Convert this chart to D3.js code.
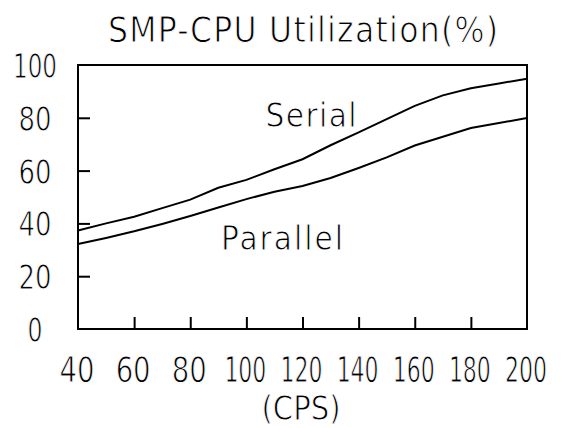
<!DOCTYPE html>
<html>
<head>
<meta charset="utf-8">
<script src="https://cdn.jsdelivr.net/npm/d3@7"></script>
<style>
  body { margin: 0; background: #fff; }
  text { font-family: "Liberation Sans Narrow", "DejaVu Sans Condensed", sans-serif; fill: #000;
         stroke: #fff; stroke-width: 0.9px; }
</style>
</head>
<body>
<svg id="chart"></svg>
<script>
// CPS values along the x axis
const cps = [40, 50, 60, 70, 80, 90, 100, 110, 120, 130, 140, 150, 160, 170, 180, 190, 200];
// CPU utilization (%)
const serial   = [37.3, 40, 42.5, 45.8, 49, 53.5, 56.5, 60.5, 64.3, 69.6, 74.5, 79.5, 84.5, 88.5, 91.2, 93, 94.8];
const parallel = [32.2, 34.5, 37, 39.8, 42.8, 46, 49.2, 52, 54.2, 57.2, 61, 65, 69.5, 72.8, 76.1, 78, 79.9];
const xTicks = [40, 60, 80, 100, 120, 140, 160, 180, 200];
const yTicks = [0, 20, 40, 60, 80, 100];

const width = 566, height = 428;
const margin = {top: 65, right: 39, bottom: 99, left: 78};

const svg = d3.select("#chart")
  .attr("width", width)
  .attr("height", height);

const x = d3.scaleLinear().domain([40, 200]).range([margin.left, width - margin.right]);
const y = d3.scaleLinear().domain([0, 100]).range([height - margin.bottom, margin.top]);

// frame
svg.append("rect")
  .attr("x", x(40)).attr("y", y(100))
  .attr("width", x(200) - x(40)).attr("height", y(0) - y(100))
  .attr("fill", "none").attr("stroke", "#000").attr("stroke-width", 2);

// inward ticks, labels drawn separately
const xAxis = d3.axisTop(x).tickValues(xTicks.slice(1, -1)).tickSize(12).tickFormat("");
svg.append("g")
  .attr("transform", `translate(0,${y(0)})`)
  .call(xAxis)
  .call(g => g.select(".domain").remove())
  .call(g => g.selectAll("line").attr("stroke-width", 2));

const yAxis = d3.axisRight(y).tickValues(yTicks.slice(1, -1)).tickSize(12).tickFormat("");
svg.append("g")
  .attr("transform", `translate(${x(40)},0)`)
  .call(yAxis)
  .call(g => g.select(".domain").remove())
  .call(g => g.selectAll("line").attr("stroke-width", 2));

// tick labels (squeezed to the narrow plotter digits)
svg.append("g").selectAll("text")
  .data(xTicks)
  .join("text")
    .attr("x", d => x(d) - 1)
    .attr("y", 382)
    .attr("text-anchor", "middle")
    .attr("textLength", d => String(d).length == 3 ? 42 : 35)
    .attr("lengthAdjust", "spacingAndGlyphs")
    .style("font-size", "35px")
    .text(d => d);

svg.append("g").selectAll("text")
  .data(yTicks)
  .join("text")
    .attr("x", 35)
    .attr("y", d => y(d) + 13)
    .attr("text-anchor", "middle")
    .attr("textLength", d => String(d).length == 3 ? 44 : (d == 0 ? 15 : 33))
    .attr("lengthAdjust", "spacingAndGlyphs")
    .style("font-size", "34px")
    .text(d => d);

// series
const line = d3.line()
  .x((d, i) => x(cps[i]))
  .y(d => y(d));

[serial, parallel].forEach(s => {
  svg.append("path")
    .datum(s)
    .attr("fill", "none")
    .attr("stroke", "#000")
    .attr("stroke-width", 2)
    .attr("d", line);
});

// labels
svg.append("text")
  .attr("x", 311).attr("y", 127)
  .attr("text-anchor", "middle")
  .attr("textLength", 91)
  .style("font-size", "33px")
  .text("Serial");

svg.append("text")
  .attr("x", 282).attr("y", 250)
  .attr("text-anchor", "middle")
  .attr("textLength", 122)
  .style("font-size", "33px")
  .text("Parallel");

svg.append("text")
  .attr("x", 303).attr("y", 42)
  .attr("text-anchor", "middle")
  .attr("textLength", 390)
  .style("font-size", "35px")
  .text("SMP-CPU Utilization(%)");

svg.append("text")
  .attr("x", 301).attr("y", 420)
  .attr("text-anchor", "middle")
  .attr("textLength", 79)
  .attr("lengthAdjust", "spacingAndGlyphs")
  .style("font-size", "34px")
  .text("(CPS)");
</script>
</body>
</html>
